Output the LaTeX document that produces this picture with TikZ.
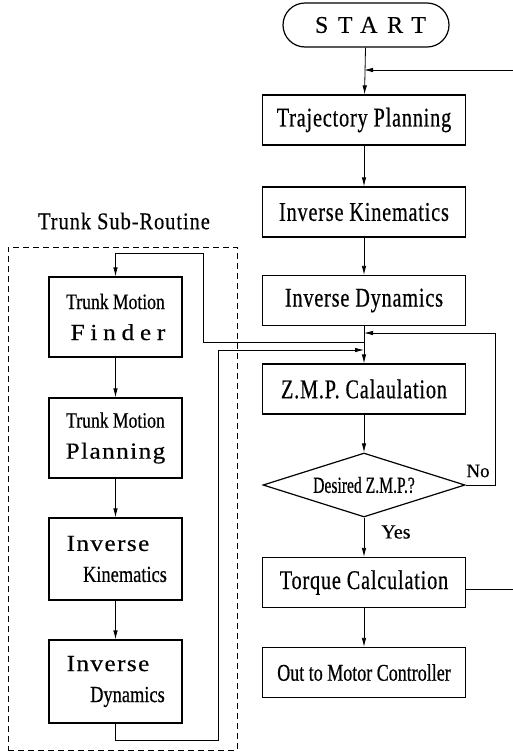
\documentclass[tikz,border=0pt]{standalone}
\usepackage{fontspec}
\setmainfont{Liberation Serif}[FakeBold=0.4]
\newfontfamily\mainbox[FakeStretch=0.75,LetterSpace=3,FakeBold=0.5]{Liberation Serif}
\newfontfamily\condfont[FakeStretch=0.8,FakeBold=0.5]{Liberation Serif}
\newfontfamily\narrowfont[FakeStretch=0.68,FakeBold=0.5]{Liberation Serif}
\newfontfamily\outfont[FakeStretch=0.75,FakeBold=0.5]{Liberation Serif}
\newfontfamily\widefont[FakeStretch=1.1,LetterSpace=6,FakeBold=0.3]{Liberation Serif}
\newfontfamily\finderfont[FakeStretch=1.1,LetterSpace=25,FakeBold=0.3]{Liberation Serif}
\newfontfamily\startfont[LetterSpace=40,FakeBold=0.3]{Liberation Serif}
\newfontfamily\titlefont[FakeStretch=0.85,LetterSpace=4,FakeBold=0.4]{Liberation Serif}
\usetikzlibrary{arrows.meta,shapes.geometric}
\begin{document}
\begin{tikzpicture}[x=1pt,y=-1pt,
  box/.style={draw, line width=1.2pt, minimum width=203pt, minimum height=50pt, inner sep=0pt,
    font=\mainbox\fontsize{27}{30}\selectfont},
  subbox/.style={draw, line width=1.2pt, minimum width=133pt, minimum height=80pt, inner sep=0pt,
    align=center, font=\fontsize{22}{31}\selectfont},
  conn/.style={line width=0.8pt},
  arr/.style={conn, -{Latex[length=9pt,width=4.5pt]}},
  lab/.style={inner sep=0pt, font=\fontsize{20}{22}\selectfont},
]
\useasboundingbox (0,0) rectangle (513,756);

% main column
\node[draw, line width=1.2pt, rounded corners=22pt, minimum width=166pt, minimum height=44pt,
  inner sep=0pt, font=\startfont\fontsize{24}{26}\selectfont] (start) at (366,25) {\hspace*{9pt}START};
\node[box] (traj) at (364,120) {Trajectory Planning};
\node[box] (ik) at (364,212) {Inverse Kinematics};
\node[box] (id) at (364,300.5) {Inverse Dynamics};
\node[box] (zmp) at (364,389) {Z.M.P. Calaulation};
\node[draw, diamond, aspect=3.15, minimum width=202pt, minimum height=64pt, inner sep=0pt,
  line width=1.2pt, font=\narrowfont\fontsize{23}{26}\selectfont] (dec) at (364,485) {Desired Z.M.P.?};
\node[box] (torque) at (364,582.5) {Torque Calculation};
\node[box, font=\outfont\fontsize{24}{26}\selectfont] (out) at (364,672.5) {Out to Motor Controller};

\node[lab] (yes) at (396,532) {Yes};
\node[lab, font=\fontsize{19}{22}\selectfont] (no) at (478,471) {No};

% sub-routine
\node[font=\titlefont\fontsize{24}{26}\selectfont] (title) at (124,221) {Trunk Sub-Routine};
\node[draw, dashed, dash pattern=on 6pt off 4pt, line width=0.8pt, minimum width=229pt,
  minimum height=503pt, inner sep=0pt] (frame) at (122.5,498.5) {};
\node[subbox] (tfind) at (115.5,317) {{\condfont Trunk Motion}\\{\finderfont\fontsize{23}{31}\selectfont \hspace*{5pt}Finder}};
\node[subbox] (tplan) at (115.5,438) {{\condfont Trunk Motion}\\{\widefont\fontsize{23}{31}\selectfont Planning}};
\node[subbox, minimum height=82pt] (sik) at (115.5,559)
  {\hspace*{-15pt}{\widefont\fontsize{23}{31}\selectfont Inverse}\\\hspace*{19pt}{\condfont\fontsize{23}{31}\selectfont Kinematics}};
\node[subbox, minimum height=83pt] (sid) at (115.5,681.5)
  {\hspace*{-15pt}{\widefont\fontsize{23}{31}\selectfont Inverse}\\\hspace*{24pt}{\condfont\fontsize{23}{31}\selectfont Dynamics}};

% coordinates
\coordinate (fb) at (513,70);
\coordinate (tq) at (513,589);
\coordinate (br) at (364,342);
\coordinate (c1) at (203,342);
\coordinate (c2) at (203,253);
\coordinate (r1) at (218,740);
\coordinate (r2) at (218,350);
\coordinate (mj) at (364,350);
\coordinate (n1) at (495,485);
\coordinate (n2) at (495,333);
\coordinate (nj) at (364,333);

% connectors main
\draw[arr] (start) -- (traj);
\draw[arr] (fb) -- (fb -| traj);
\draw[arr] (traj) -- (ik);
\draw[arr] (ik) -- (id);
\draw[arr] (id) -- (zmp);
\draw[arr] (zmp) -- (dec);
\draw[arr] (dec) -- (torque);
\draw[arr] (torque) -- (out);
\draw[conn] (torque.east |- tq) -- (tq);
\draw[arr] (dec.east) -- (n1) -- (n2) -- (nj);

% connectors sub
\draw[arr] (br) -- (c1) -- (c2) -- (c2 -| tfind) -- (tfind.north);
\draw[arr] (tfind) -- (tplan);
\draw[arr] (tplan) -- (sik);
\draw[arr] (sik) -- (sid);
\draw[arr] (sid.south) -- (sid.south |- r1) -- (r1) -- (r2) -- (mj);
\end{tikzpicture}
\end{document}
